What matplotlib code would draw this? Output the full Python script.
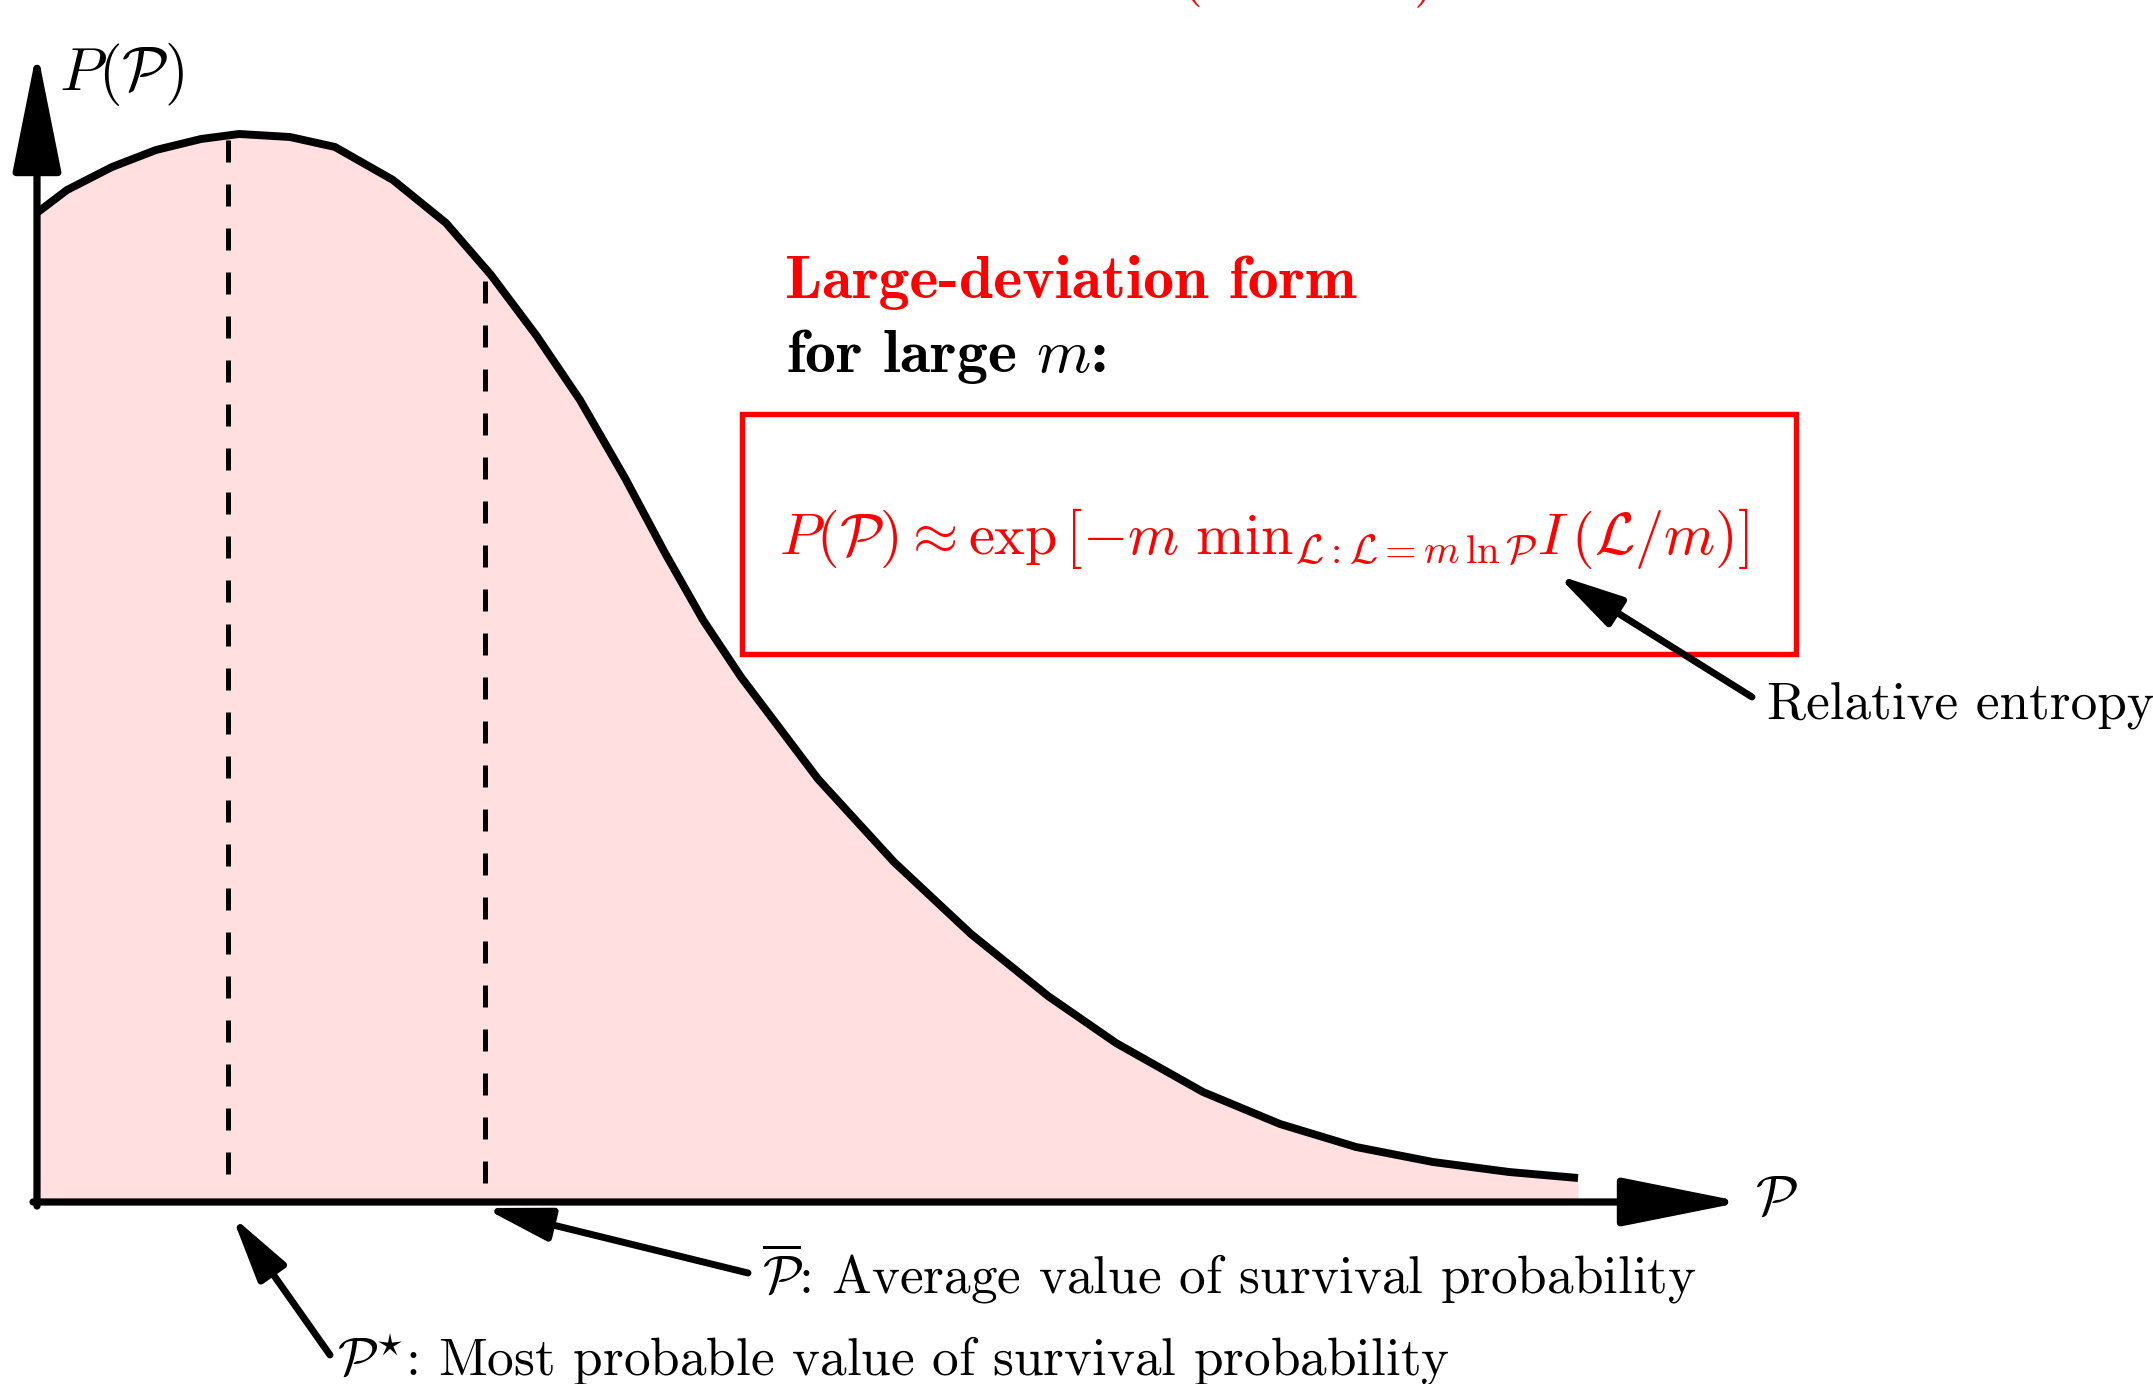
import numpy as np
import matplotlib
matplotlib.use("Agg")
import matplotlib.pyplot as plt
from matplotlib.patches import FancyArrowPatch, Rectangle, ArrowStyle

plt.rcParams['mathtext.fontset'] = 'cm'

# schematic distribution P(P) (1 unit = 100 px)
curve_x = [0.01, 0.30, 0.75, 1.19, 1.64, 2.02, 2.53, 2.98, 3.56, 4.09, 4.54,
           4.99, 5.43, 5.88, 6.28, 6.66, 7.04, 7.81, 8.57, 9.34, 10.11, 10.79,
           11.66, 12.43, 13.19, 13.96, 14.72, 15.41]
curve_y = [9.90, 10.12, 10.35, 10.52, 10.63, 10.68, 10.65, 10.55, 10.22, 9.79, 9.27,
           8.67, 8.02, 7.24, 6.49, 5.82, 5.25, 4.23, 3.40, 2.68, 2.06, 1.59,
           1.10, 0.78, 0.55, 0.40, 0.30, 0.24]

# most probable and average values, with the height where the dashed line stops
p_star, p_star_top = 1.91, 10.62
p_bar, p_bar_top = 4.48, 9.21

# axis extents
x_axis_end = 17.06
y_axis_end = 11.52

# formula box (x0, x1, y0, y1)
box_x = [7.05, 17.59]
box_y = [5.48, 7.88]

red = '#ff0000'
pink = '#ffdfe0'

fig = plt.figure(figsize=(21.53, 13.84), dpi=100)
ax = fig.add_axes([0, 0, 1, 1])
ax.set_xlim(-0.37, 21.16)
ax.set_ylim(-1.82, 12.02)
ax.axis('off')

# shaded area and curve
ax.fill_between(curve_x, curve_y, 0, color=pink, lw=0, zorder=1)
ax.plot(curve_x, curve_y, color='k', lw=5.7, solid_joinstyle='round',
        solid_capstyle='butt', zorder=3)

# dashed markers
for xv, top in [(p_star, p_star_top), (p_bar, p_bar_top)]:
    ax.plot([xv, xv], [top, 0.10], color='k', lw=3.6, dashes=(4.4, 4.4), zorder=2)

# axes with arrow heads
axis_style = ArrowStyle('-|>', head_length=75, head_width=15)
for start, end in [((0, -0.04), (0, y_axis_end)), ((-0.04, 0), (x_axis_end, 0))]:
    ax.add_patch(FancyArrowPatch(start, end, arrowstyle=axis_style, mutation_scale=1,
                                 lw=5.2, color='k', shrinkA=0, shrinkB=0, zorder=4))

ax.text(0.22, 11.12, r'$P(\mathcal{P})$', fontsize=44, va='baseline', ha='left')
ax.text(17.18, -0.13, r'$\mathcal{P}$', fontsize=40, va='baseline', ha='left')

# red partial title at top edge
ax.text(11.44, 12.09, '(', fontsize=40, family='cmr10', color=red, va='baseline')
ax.text(13.77, 12.09, ')', fontsize=40, family='cmr10', color=red, va='baseline')

# large deviation annotation
ax.text(7.48, 9.04, 'Large-deviation form', fontsize=44.5, family='cmb10',
        color=red, va='baseline', ha='left')
ax.text(7.49, 8.30, r'for large $m$:', fontsize=44.5, family='cmb10',
        color='k', va='baseline', ha='left')
ax.add_patch(Rectangle((box_x[0], box_y[0]), box_x[1] - box_x[0], box_y[1] - box_y[0],
                       fill=False, edgecolor=red, lw=3.9, zorder=3))
formula = (r'$P(\mathcal{P}) \approx \exp\left[-m\ \mathrm{min}_{\mathcal{L}:\mathcal{L}=m\,'
           r'\ln\mathcal{P}} I\,\left(\mathcal{L}/m\right)\right]$')
ax.text(7.42, 6.48, formula, fontsize=42, color=red, va='baseline', ha='left')

# pointer arrows
ptr_style = ArrowStyle('-|>', head_length=40, head_width=10)
pointers = [((17.15, 5.05), (15.20, 6.27)),
            ((7.11, -0.71), (4.47, -0.06)),
            ((2.93, -1.53), (1.95, -0.14))]
for tail, tip in pointers:
    ax.add_patch(FancyArrowPatch(tail, tip, arrowstyle=ptr_style, mutation_scale=1,
                                 lw=5, color='k', shrinkA=0, shrinkB=0, zorder=4))

ax.text(17.30, 4.82, 'Relative entropy', fontsize=38.3, family='cmr10',
        va='baseline', ha='left')
ax.text(7.25, -0.91, r'$\overline{\mathcal{P}}$: Average value of survival probability',
        fontsize=38.3, family='cmr10', va='baseline', ha='left')
ax.text(3.00, -1.73, r'$\mathcal{P}^{\star}$: Most probable value of survival probability',
        fontsize=38.3, family='cmr10', va='baseline', ha='left')

fig.savefig('out.png', dpi=100)
